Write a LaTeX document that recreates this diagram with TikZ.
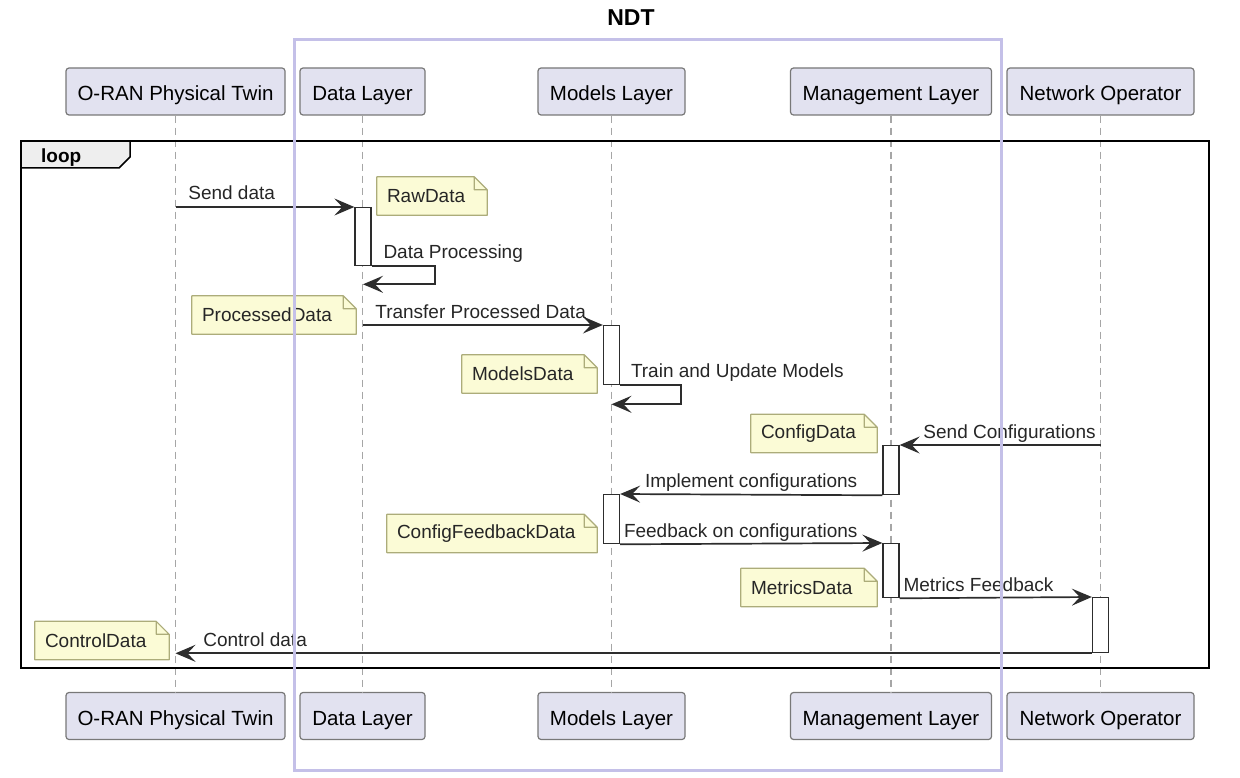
\documentclass[tikz,border=0pt]{standalone}
\usepackage{fontspec}
\setmainfont{Liberation Sans}
\usepackage{tikz}
\usetikzlibrary{arrows.meta, positioning, calc}

\definecolor{partfill}{RGB}{226,226,240}
\definecolor{partline}{RGB}{120,120,120}
\definecolor{notefill}{RGB}{251,251,214}
\definecolor{noteline}{RGB}{172,172,122}
\definecolor{ndtline}{RGB}{196,192,232}
\definecolor{msgline}{RGB}{45,45,45}
\definecolor{tabfill}{RGB}{238,238,238}

\newcommand{\msgfont}{\fontsize{19}{22}\selectfont}
\newcommand{\partfont}{\fontsize{20.5}{24}\selectfont}
\newcommand{\notefold}[1]{%
  \fill[white] ([xshift=-13pt]#1.north east) -- (#1.north east) -- ([yshift=-13pt]#1.north east) -- cycle;
  \draw[noteline, line width=1.2pt, line join=round] (#1.south west) -- (#1.north west)
    -- ([xshift=-13pt]#1.north east) -- ([yshift=-13pt]#1.north east) -- (#1.south east) -- cycle
    ([xshift=-13pt]#1.north east) |- ([yshift=-13pt]#1.north east);}

\begin{document}
\begin{tikzpicture}[
    x=1pt, y=-1pt,
    part/.style={rectangle, draw=partline, fill=partfill, line width=1.2pt, rounded corners=3pt, minimum height=47pt, text height=22pt, text depth=4pt, font=\partfont},
    lifeline/.style={draw=gray!70, line width=1.2pt, dash pattern=on 7pt off 5pt},
    act/.style={rectangle, draw=msgline, fill=white, line width=1.3pt, minimum width=16pt, inner sep=0pt, anchor=north},
    msg/.style={-{Stealth[length=20pt, width=17pt, inset=8pt]}, draw=msgline, line width=1.7pt},
    lbl/.style={font=\msgfont, inner sep=0pt, text=black!85},
    note/.style={fill=notefill, inner xsep=10pt, inner ysep=0pt, minimum height=38pt, text width=#1, align=left, font=\msgfont, text=black!85},
    frame/.style={draw=black, line width=2.6pt},
    ndt/.style={draw=ndtline, line width=3pt}
]
\useasboundingbox (0,0) rectangle (1240,778);

% participants, top and bottom
\node[part, minimum width=219pt] (twinTop)   at (175.5,91.5) {O-RAN Physical Twin};
\node[part, minimum width=125pt] (dataTop)   at (362.5,91.5) {Data Layer};
\node[part, minimum width=147pt] (modelsTop) at (611.5,91.5) {Models Layer};
\node[part, minimum width=201pt] (mgmtTop)   at (891,91.5)   {Management Layer};
\node[part, minimum width=187pt] (netopTop)  at (1100.5,91.5) {Network Operator};

\node[part, minimum width=219pt] (twinBot)   at (175.5,716) {O-RAN Physical Twin};
\node[part, minimum width=125pt] (dataBot)   at (362.5,716) {Data Layer};
\node[part, minimum width=147pt] (modelsBot) at (611.5,716) {Models Layer};
\node[part, minimum width=201pt] (mgmtBot)   at (891,716)   {Management Layer};
\node[part, minimum width=187pt] (netopBot)  at (1100.5,716) {Network Operator};

\foreach \p in {twin,data,models,mgmt,netop}
  \draw[lifeline] (\p Top.south) -- (\p Bot.north);

% loop frame
\filldraw[fill=tabfill, draw=black, line width=1.5pt] (21,141) -- (130,141) -- (130,157) -- (119,168) -- (21,168);
\draw[frame] (21,141) rectangle (1209,668);
\node[font=\msgfont\bfseries, anchor=base west, inner sep=0pt] (loopLbl) at (41,163) {loop};

% activations
\node[act, minimum height=58pt] (actA) at (363,207) {};
\node[act, minimum height=59pt] (actB) at (611.5,325) {};
\node[act, minimum height=49pt] (actC) at (891,445) {};
\node[act, minimum height=49pt] (actD) at (611.5,494) {};
\node[act, minimum height=54pt] (actE) at (891,543) {};
\node[act, minimum height=55pt] (actF) at (1100.5,597) {};

% messages
\draw[msg] (twinTop |- actA.north) -- (actA.north west)
  node[lbl, pos=0, anchor=base west, xshift=12pt, yshift=7pt] {Send data};
\draw[msg] (actA.south east) -- ++(63,0)
  node[lbl, pos=0, anchor=base west, xshift=11pt, yshift=8pt] {Data Processing}
  -- ++(0,18) -- ($(actA.south)+(0,-18pt)$);
\draw[msg] (dataTop |- actB.north) -- (actB.north west)
  node[lbl, pos=0, anchor=base west, xshift=12pt, yshift=7pt] {Transfer Processed Data};
\draw[msg] (actB.south east) -- ++(61,0)
  node[lbl, pos=0, anchor=base west, xshift=10pt, yshift=8pt] {Train and Update Models}
  -- ++(0,19) -- ($(actB.south)+(0,-19pt)$);
\draw[msg] (netopTop |- actC.north) -- (actC.north east)
  node[lbl, pos=0, anchor=base east, xshift=-4pt, yshift=7pt] {Send Configurations};
\draw[msg] (actC.south west) -- (actD.north east)
  node[lbl, pos=1, anchor=base west, xshift=24pt, yshift=7pt] {Implement configurations};
\draw[msg] (actD.south east) -- (actE.north west)
  node[lbl, pos=0, anchor=base west, xshift=3pt, yshift=7pt] {Feedback on configurations};
\draw[msg] (actE.south east) -- (actF.north west)
  node[lbl, pos=0, anchor=base west, xshift=3pt, yshift=7pt] {Metrics Feedback};
\draw[msg] (actF.south west) -- (twinTop |- actF.south)
  node[lbl, pos=1, anchor=base west, xshift=27pt, yshift=7pt] {Control data};

% notes
\node[note=90pt]  (rawNote)     at (432,196)   {RawData};          \notefold{rawNote}
\node[note=144pt] (procNote)    at (274,315)   {ProcessedData};    \notefold{procNote}
\node[note=115pt] (modelsNote)  at (529.5,374) {ModelsData};       \notefold{modelsNote}
\node[note=106pt] (cfgNote)     at (814,433.5) {ConfigData};       \notefold{cfgNote}
\node[note=190pt] (fbNote)      at (492,533.5) {ConfigFeedbackData}; \notefold{fbNote}
\node[note=116pt] (metricsNote) at (809,587.5) {MetricsData};      \notefold{metricsNote}
\node[note=114pt] (ctrlNote)    at (102,640.5) {ControlData};      \notefold{ctrlNote}

% NDT box on top
\draw[ndt] (294,40) rectangle (1001,770);
\node[font=\fontsize{23}{27}\selectfont\bfseries] (ndtTitle) at (631,18) {NDT};

\end{tikzpicture}
\end{document}
